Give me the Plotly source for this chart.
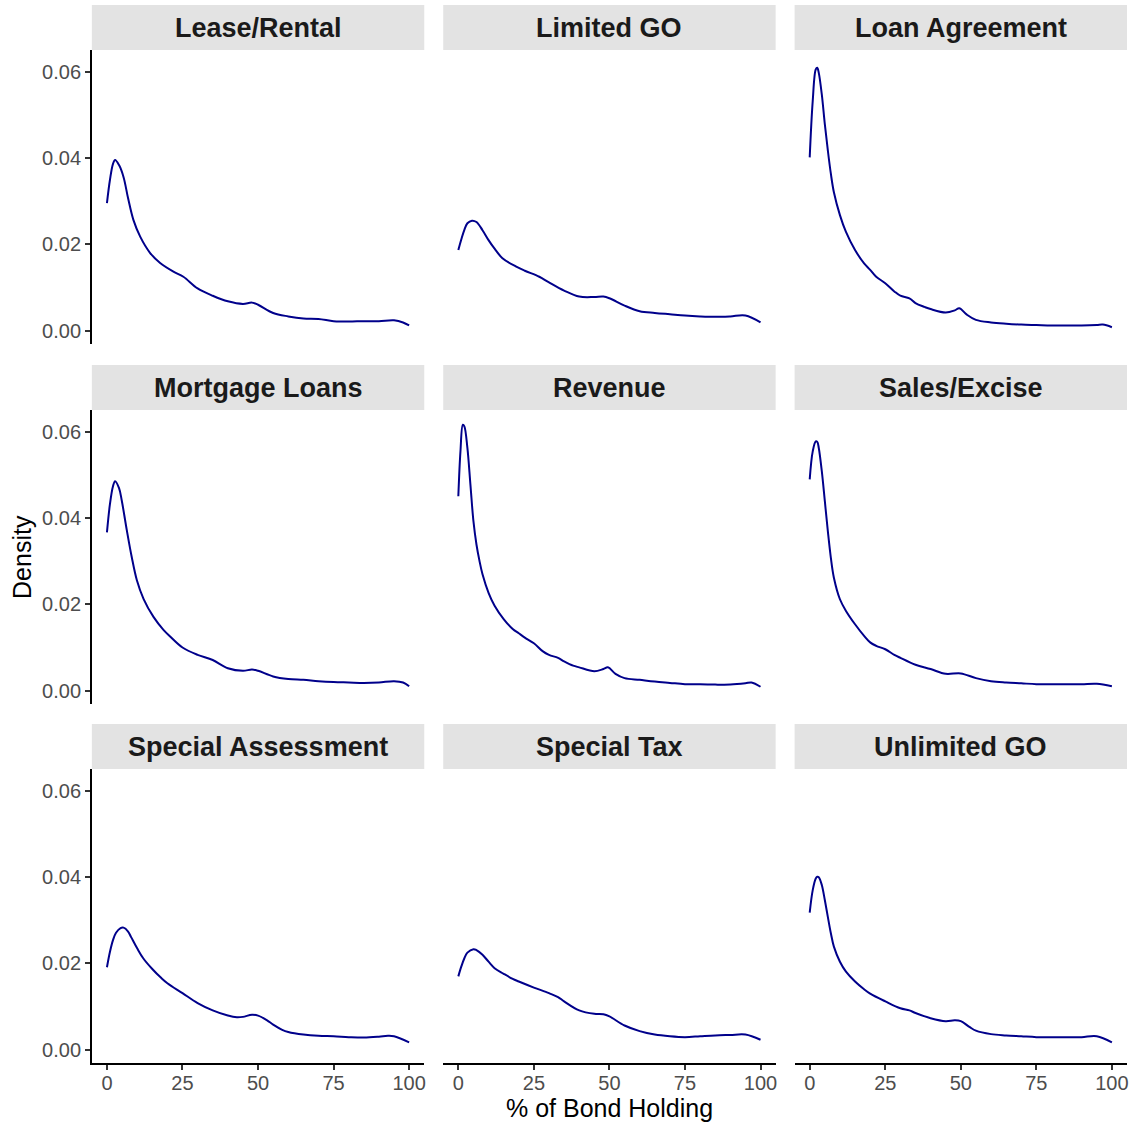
import plotly.graph_objects as go

facets = ["Lease/Rental", "Limited GO", "Loan Agreement",
          "Mortgage Loans", "Revenue", "Sales/Excise",
          "Special Assessment", "Special Tax", "Unlimited GO"]

lease_x = [0, 1, 2, 2.7, 4, 5.5, 7, 8.75, 11, 14.3, 17.6, 22, 25.3, 30, 35, 40, 45, 48, 50, 55, 60, 65, 70, 75, 80, 85, 90, 95, 98, 100]
lease_y = [0.0296, 0.0350, 0.0387, 0.0396, 0.0384, 0.0356, 0.0307, 0.0257, 0.0218, 0.0180, 0.0157, 0.0137, 0.0125, 0.0098, 0.0081, 0.0068, 0.0062, 0.0065, 0.0060, 0.0041, 0.0033, 0.0028, 0.0027, 0.0022, 0.0021, 0.0022, 0.0022, 0.0024, 0.0019, 0.0012]

limgo_x = [0, 1, 2, 3, 4.5, 6, 8, 10, 12, 14.6, 19, 22, 26.8, 30, 35, 40, 45, 48, 50, 55, 60, 65, 70, 75, 80, 85, 90, 95, 100]
limgo_y = [0.0187, 0.0212, 0.0234, 0.0249, 0.0255, 0.0252, 0.0233, 0.0210, 0.0190, 0.0168, 0.0149, 0.0139, 0.0125, 0.0112, 0.0093, 0.0079, 0.0078, 0.0079, 0.0075, 0.0058, 0.0045, 0.0041, 0.0038, 0.0035, 0.0033, 0.0032, 0.0033, 0.0035, 0.0019]

loan_x = [0, 1, 2, 2.5, 3, 4, 5, 6, 7, 8, 10, 12, 15, 18, 20, 22, 25, 28, 30, 33, 35, 38, 40, 45, 48, 49.5, 52, 55, 60, 65, 70, 75, 80, 85, 90, 95, 97, 100]
loan_y = [0.0402, 0.0533, 0.0606, 0.0610, 0.0598, 0.0548, 0.0479, 0.0418, 0.0364, 0.0321, 0.0268, 0.0229, 0.0187, 0.0156, 0.0141, 0.0125, 0.0110, 0.0091, 0.0081, 0.0075, 0.0064, 0.0055, 0.0050, 0.0042, 0.0047, 0.0052, 0.0037, 0.0025, 0.0019, 0.0016, 0.0014, 0.0013, 0.0012, 0.0012, 0.0012, 0.0013, 0.0014, 0.0008]

mort_x = [0, 1, 2, 2.7, 4, 4.9, 6.6, 8.2, 9.9, 12.1, 15.4, 18.7, 21, 25, 30, 35, 40, 45, 48, 50, 55, 60, 65, 70, 75, 80, 85, 90, 95, 98, 100]
mort_y = [0.0367, 0.0433, 0.0474, 0.0486, 0.0470, 0.0441, 0.0371, 0.0310, 0.0256, 0.0213, 0.0171, 0.0141, 0.0125, 0.0100, 0.0083, 0.0071, 0.0052, 0.0046, 0.0049, 0.0046, 0.0033, 0.0027, 0.0025, 0.0022, 0.0020, 0.0019, 0.0018, 0.0019, 0.0022, 0.0019, 0.0010]

rev_x = [0, 0.7, 1.5, 2, 3, 4, 5, 6, 7, 8, 10, 12, 15, 18, 20, 22, 25, 28, 30, 33, 35, 38, 40, 45, 48, 49.5, 52, 55, 60, 65, 70, 75, 80, 85, 90, 95, 97, 100]
rev_y = [0.0451, 0.0555, 0.0617, 0.0613, 0.0563, 0.0478, 0.0393, 0.0339, 0.0301, 0.0270, 0.0227, 0.0197, 0.0166, 0.0143, 0.0133, 0.0123, 0.0110, 0.0091, 0.0083, 0.0076, 0.0068, 0.0058, 0.0054, 0.0045, 0.0050, 0.0054, 0.0039, 0.0029, 0.0025, 0.0021, 0.0018, 0.0015, 0.0015, 0.0014, 0.0014, 0.0017, 0.0019, 0.0009]

sales_x = [0, 1, 2, 2.5, 3, 4, 5, 6, 7, 8, 10, 12, 15, 18, 20, 22, 25, 28, 30, 35, 40, 45, 50, 55, 60, 65, 70, 75, 80, 85, 90, 95, 100]
sales_y = [0.0490, 0.0555, 0.0578, 0.0577, 0.0563, 0.0509, 0.0440, 0.0370, 0.0308, 0.0262, 0.0212, 0.0185, 0.0154, 0.0127, 0.0112, 0.0104, 0.0096, 0.0083, 0.0076, 0.0060, 0.0050, 0.0039, 0.0040, 0.0029, 0.0022, 0.0019, 0.0017, 0.0015, 0.0015, 0.0015, 0.0015, 0.0016, 0.0010]

spass_x = [0, 1, 2, 3, 4.5, 5.5, 7, 8, 10, 12, 15, 18, 20, 25, 30, 35, 40, 43, 45, 48, 50, 53, 55, 58, 60, 65, 70, 75, 80, 85, 90, 93, 95, 100]
spass_y = [0.0191, 0.0227, 0.0254, 0.0271, 0.0282, 0.0283, 0.0274, 0.0261, 0.0235, 0.0212, 0.0187, 0.0166, 0.0154, 0.0131, 0.0108, 0.0091, 0.0079, 0.0075, 0.0076, 0.0081, 0.0079, 0.0068, 0.0058, 0.0046, 0.0041, 0.0035, 0.0032, 0.0031, 0.0029, 0.0028, 0.0030, 0.0032, 0.0031, 0.0017]

sptax_x = [0, 1, 2, 3, 5, 6, 8, 10, 12, 15, 18, 20, 25, 30, 33, 35, 40, 45, 48, 50, 55, 60, 65, 70, 75, 80, 85, 90, 95, 100]
sptax_y = [0.0170, 0.0193, 0.0212, 0.0225, 0.0233, 0.0231, 0.0220, 0.0204, 0.0189, 0.0176, 0.0164, 0.0158, 0.0144, 0.0131, 0.0122, 0.0112, 0.0091, 0.0083, 0.0082, 0.0077, 0.0056, 0.0043, 0.0035, 0.0031, 0.0029, 0.0031, 0.0033, 0.0034, 0.0035, 0.0023]

ungo_x = [0, 1, 2, 2.5, 3, 4, 5, 6, 7, 8, 10, 12, 15, 18, 20, 25, 30, 33, 35, 40, 45, 48, 50, 53, 55, 60, 65, 70, 75, 80, 85, 90, 95, 100]
ungo_y = [0.0318, 0.0370, 0.0397, 0.0401, 0.0400, 0.0382, 0.0347, 0.0308, 0.0270, 0.0239, 0.0204, 0.0181, 0.0158, 0.0140, 0.0130, 0.0112, 0.0096, 0.0091, 0.0085, 0.0073, 0.0066, 0.0068, 0.0066, 0.0052, 0.0044, 0.0036, 0.0033, 0.0031, 0.0029, 0.0029, 0.0029, 0.0029, 0.0031, 0.0017]

xs = [lease_x, limgo_x, loan_x, mort_x, rev_x, sales_x, spass_x, sptax_x, ungo_x]
ys = [lease_y, limgo_y, loan_y, mort_y, rev_y, sales_y, spass_y, sptax_y, ungo_y]

x_ticks = [0, 25, 50, 75, 100]
x_tick_labels = ["0", "25", "50", "75", "100"]
y_ticks = [0, 0.02, 0.04, 0.06]
y_tick_labels = ["0.00", "0.02", "0.04", "0.06"]

W, H = 1136, 1125
col_l = [92, 444, 796]
col_r = [425, 777, 1129]
strip_top = [5, 365, 724]
strip_bot = [50, 410, 769]
panel_bot = [344, 704, 1063]

FONT = "Liberation Sans, Arial, Helvetica, sans-serif"
fig = go.Figure()
layout = dict(width=W, height=H, margin=dict(l=0, r=0, t=0, b=0),
              plot_bgcolor="white", paper_bgcolor="white", showlegend=False,
              font=dict(family=FONT))
shapes, annotations = [], []

for i, name in enumerate(facets):
    r, c = divmod(i, 3)
    k = i + 1
    xa = "xaxis" if k == 1 else f"xaxis{k}"
    ya = "yaxis" if k == 1 else f"yaxis{k}"
    xd = [col_l[c] / W, col_r[c] / W]
    yd = [1 - panel_bot[r] / H, 1 - strip_bot[r] / H]
    bottom = (r == 2)
    left = (c == 0)
    layout[xa] = dict(domain=xd, range=[-5, 105], anchor=("y" if k == 1 else f"y{k}"),
                      showgrid=False, zeroline=False,
                      showline=bottom, linecolor="black", linewidth=1.6,
                      ticks="outside" if bottom else "", ticklen=5, tickwidth=1.6, tickcolor="#333333",
                      showticklabels=bottom, tickvals=x_ticks, ticktext=x_tick_labels,
                      ticklabelstandoff=-4,
                      tickfont=dict(size=20, color="#4D4D4D", family=FONT))
    layout[ya] = dict(domain=yd, range=[-0.0031, 0.0651], anchor=("x" if k == 1 else f"x{k}"),
                      showgrid=False, zeroline=False,
                      showline=left, linecolor="black", linewidth=1.6,
                      ticks="outside" if left else "", ticklen=5, tickwidth=1.6, tickcolor="#333333",
                      showticklabels=left, tickvals=y_ticks, ticktext=y_tick_labels,
                      tickfont=dict(size=20, color="#4D4D4D", family=FONT))
    fig.add_trace(go.Scatter(x=xs[i], y=ys[i], mode="lines",
                             line=dict(color="#00008B", width=2, shape="spline", smoothing=1.0),
                             xaxis=("x" if k == 1 else f"x{k}"), yaxis=("y" if k == 1 else f"y{k}"),
                             hoverinfo="skip"))
    shapes.append(dict(type="rect", xref="paper", yref="paper",
                       x0=col_l[c] / W, x1=col_r[c] / W,
                       y0=1 - strip_bot[r] / H, y1=1 - strip_top[r] / H,
                       fillcolor="#E3E3E3", line=dict(width=0), layer="below"))
    annotations.append(dict(text=f"<b>{name}</b>", xref="paper", yref="paper",
                            x=(col_l[c] + col_r[c]) / 2 / W,
                            y=1 - (strip_top[r] + strip_bot[r]) / 2 / H,
                            xanchor="center", yanchor="middle", showarrow=False,
                            font=dict(size=27, color="#1A1A1A", family=FONT)))

annotations.append(dict(text="% of Bond Holding", xref="paper", yref="paper",
                        x=(col_l[1] + col_r[1]) / 2 / W, y=1 - 1108 / H,
                        xanchor="center", yanchor="middle", showarrow=False,
                        font=dict(size=25, color="black", family=FONT)))
annotations.append(dict(text="Density", xref="paper", yref="paper",
                        x=22 / W, y=1 - (strip_bot[1] + panel_bot[1]) / 2 / H,
                        xanchor="center", yanchor="middle", showarrow=False, textangle=-90,
                        font=dict(size=25, color="black", family=FONT)))

layout["shapes"] = shapes
layout["annotations"] = annotations
fig.update_layout(**layout)

fig.write_html("out.html", config={"displayModeBar": False},
               post_script="document.body.style.margin='0';document.body.style.overflow='hidden';")
